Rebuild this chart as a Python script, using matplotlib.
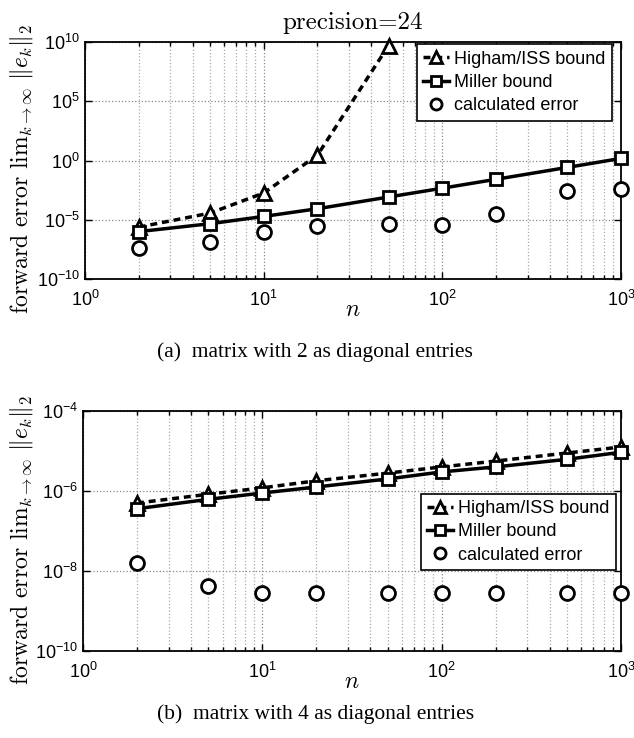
import numpy as np
import matplotlib
matplotlib.use("Agg")
import matplotlib.pyplot as plt

plt.rcParams['font.family'] = ['Liberation Sans', 'DejaVu Sans']
plt.rcParams['mathtext.fontset'] = 'cm'

# problem sizes
n = [2, 5, 10, 20, 50, 100, 200, 500, 1000]

# (a) diagonal 2
a_higham_n = [2, 5, 10, 20, 50]
a_higham = [2.4e-6, 3.6e-5, 1.8e-3, 2.8e0, 5.0e9]
a_miller = [1.0e-6, 4.6e-6, 1.9e-5, 8.5e-5, 8.3e-4, 4.6e-3, 2.6e-2, 2.6e-1, 1.5e0]
a_calc = [4.3e-8, 1.4e-7, 8.9e-7, 2.8e-6, 4.0e-6, 3.8e-6, 3.0e-5, 2.9e-3, 3.7e-3]

# (b) diagonal 4
b_higham = [5.0e-7, 8.3e-7, 1.2e-6, 1.8e-6, 2.8e-6, 4.0e-6, 5.6e-6, 8.9e-6, 1.26e-5]
b_miller = [3.6e-7, 6.2e-7, 8.9e-7, 1.26e-6, 2.0e-6, 3.0e-6, 4.0e-6, 6.2e-6, 9.3e-6]
b_calc = [1.55e-8, 4.3e-9, 2.8e-9, 2.8e-9, 2.8e-9, 2.8e-9, 2.8e-9, 2.8e-9, 2.8e-9]

labels = ['Higham/ISS bound', 'Miller bound', 'calculated error']
ylab = r'forward error $\mathrm{lim}_{k\rightarrow\infty}\ \|e_k\|_2$'

W, H = 634, 738
fig = plt.figure(figsize=(W / 100, H / 100), dpi=100)
ax0 = fig.add_axes([85 / W, 1 - 279 / H, 536 / W, 237 / H])
ax1 = fig.add_axes([83 / W, 1 - 651 / H, 538 / W, 240 / H])


def draw(ax, xh, yh, ym, yc, ylim, yticks, leg_anchor, lab_xy):
    mk = dict(markersize=10, markeredgewidth=2, markerfacecolor='white',
              markeredgecolor='black', color='black', clip_on=False)
    ax.plot(xh, yh, '--', marker='^', linewidth=2.5, dashes=(2, 1.4),
            label=labels[0], zorder=4, **mk)
    ax.plot(n, ym, '-', marker='s', linewidth=2.5, label=labels[1], zorder=5,
            **dict(mk, markersize=9))
    ax.plot(n, yc, 'o', label=labels[2], zorder=6, **mk)
    ax.set_xscale('log')
    ax.set_yscale('log')
    ax.set_xlim(1, 1000)
    ax.set_ylim(*ylim)
    ax.set_yticks(yticks)
    ax.yaxis.set_minor_locator(matplotlib.ticker.NullLocator())
    ax.grid(True, which='major', linestyle=':', color='#888888', linewidth=0.9)
    ax.grid(True, which='minor', axis='x', linestyle=':', color='#aaaaaa',
            linewidth=0.9)
    ax.tick_params(which='both', direction='in', top=True, right=True,
                   labelsize=13, width=1)
    ax.tick_params(axis='x', which='major', pad=8)
    ax.tick_params(which='major', length=5)
    ax.tick_params(which='minor', length=3)
    for s in ax.spines.values():
        s.set_linewidth(1.3)
    ax.set_xlabel(r'$n$', fontsize=17, labelpad=-8)
    ax.set_ylabel(ylab, fontsize=17, family='cmr10', va='center')
    ax.yaxis.set_label_coords(*lab_xy)
    leg = ax.legend(loc='upper right', bbox_to_anchor=leg_anchor, fontsize=13,
                    handlelength=1.4, handletextpad=0.3, borderpad=0.35,
                    labelspacing=0.35, fancybox=False, framealpha=1,
                    markerscale=0.8, edgecolor='black', borderaxespad=0)
    leg.get_frame().set_linewidth(1.2)


draw(ax0, a_higham_n, a_higham, a_miller, a_calc, (1e-10, 1e10),
     [1e-10, 1e-5, 1e0, 1e5, 1e10], (0.983, 0.99), (-0.118, 0.464))
ax0.set_title('precision=24', family='cmr10', fontsize=18, pad=9)

draw(ax1, n, b_higham, b_miller, b_calc, (1e-10, 1e-4),
     [1e-10, 1e-8, 1e-6, 1e-4], (0.99, 0.655), (-0.115, 0.4625))

fig.text(0.497, 1 - 352 / H, '(a)  matrix with 2 as diagonal entries',
         ha='center', va='center', family='Liberation Serif', fontsize=15.5)
fig.text(0.497, 1 - 714 / H, '(b)  matrix with 4 as diagonal entries',
         ha='center', va='center', family='Liberation Serif', fontsize=15.5)

fig.savefig('out.png', dpi=100)
